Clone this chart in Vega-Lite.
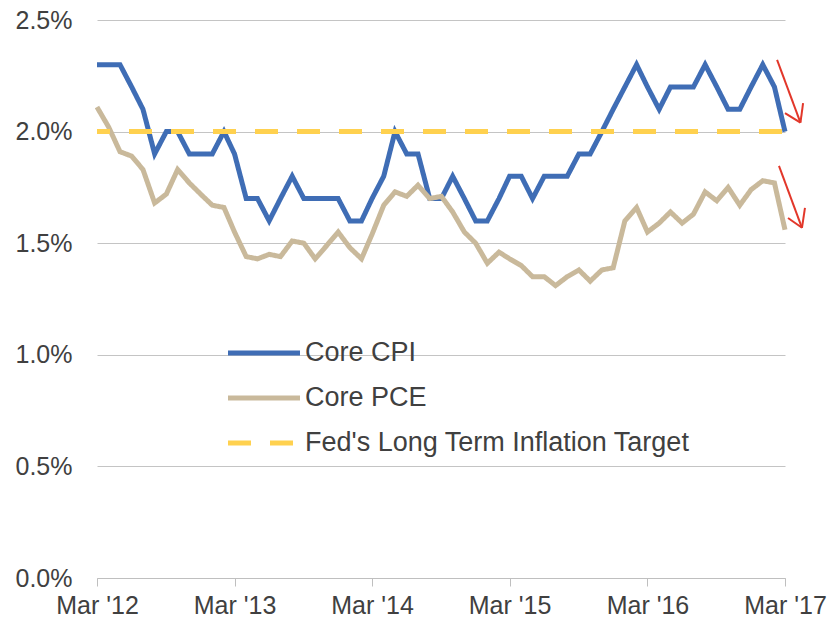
{
  "$schema": "https://vega.github.io/schema/vega-lite/v6.json",
  "width": 688,
  "height": 558,
  "autosize": "none",
  "padding": {"left": 97, "top": 20, "right": 46, "bottom": 45},
  "background": "white",
  "config": {"view": {"stroke": null}, "font": "Liberation Sans"},
  "datasets": {
    "series": [
      {"date": "2012-03-01", "series": "Core CPI", "value": 2.3},
      {"date": "2012-04-01", "series": "Core CPI", "value": 2.3},
      {"date": "2012-05-01", "series": "Core CPI", "value": 2.3},
      {"date": "2012-06-01", "series": "Core CPI", "value": 2.2},
      {"date": "2012-07-01", "series": "Core CPI", "value": 2.1},
      {"date": "2012-08-01", "series": "Core CPI", "value": 1.9},
      {"date": "2012-09-01", "series": "Core CPI", "value": 2.0},
      {"date": "2012-10-01", "series": "Core CPI", "value": 2.0},
      {"date": "2012-11-01", "series": "Core CPI", "value": 1.9},
      {"date": "2012-12-01", "series": "Core CPI", "value": 1.9},
      {"date": "2013-01-01", "series": "Core CPI", "value": 1.9},
      {"date": "2013-02-01", "series": "Core CPI", "value": 2.0},
      {"date": "2013-03-01", "series": "Core CPI", "value": 1.9},
      {"date": "2013-04-01", "series": "Core CPI", "value": 1.7},
      {"date": "2013-05-01", "series": "Core CPI", "value": 1.7},
      {"date": "2013-06-01", "series": "Core CPI", "value": 1.6},
      {"date": "2013-07-01", "series": "Core CPI", "value": 1.7},
      {"date": "2013-08-01", "series": "Core CPI", "value": 1.8},
      {"date": "2013-09-01", "series": "Core CPI", "value": 1.7},
      {"date": "2013-10-01", "series": "Core CPI", "value": 1.7},
      {"date": "2013-11-01", "series": "Core CPI", "value": 1.7},
      {"date": "2013-12-01", "series": "Core CPI", "value": 1.7},
      {"date": "2014-01-01", "series": "Core CPI", "value": 1.6},
      {"date": "2014-02-01", "series": "Core CPI", "value": 1.6},
      {"date": "2014-03-01", "series": "Core CPI", "value": 1.7},
      {"date": "2014-04-01", "series": "Core CPI", "value": 1.8},
      {"date": "2014-05-01", "series": "Core CPI", "value": 2.0},
      {"date": "2014-06-01", "series": "Core CPI", "value": 1.9},
      {"date": "2014-07-01", "series": "Core CPI", "value": 1.9},
      {"date": "2014-08-01", "series": "Core CPI", "value": 1.7},
      {"date": "2014-09-01", "series": "Core CPI", "value": 1.7},
      {"date": "2014-10-01", "series": "Core CPI", "value": 1.8},
      {"date": "2014-11-01", "series": "Core CPI", "value": 1.7},
      {"date": "2014-12-01", "series": "Core CPI", "value": 1.6},
      {"date": "2015-01-01", "series": "Core CPI", "value": 1.6},
      {"date": "2015-02-01", "series": "Core CPI", "value": 1.7},
      {"date": "2015-03-01", "series": "Core CPI", "value": 1.8},
      {"date": "2015-04-01", "series": "Core CPI", "value": 1.8},
      {"date": "2015-05-01", "series": "Core CPI", "value": 1.7},
      {"date": "2015-06-01", "series": "Core CPI", "value": 1.8},
      {"date": "2015-07-01", "series": "Core CPI", "value": 1.8},
      {"date": "2015-08-01", "series": "Core CPI", "value": 1.8},
      {"date": "2015-09-01", "series": "Core CPI", "value": 1.9},
      {"date": "2015-10-01", "series": "Core CPI", "value": 1.9},
      {"date": "2015-11-01", "series": "Core CPI", "value": 2.0},
      {"date": "2015-12-01", "series": "Core CPI", "value": 2.1},
      {"date": "2016-01-01", "series": "Core CPI", "value": 2.2},
      {"date": "2016-02-01", "series": "Core CPI", "value": 2.3},
      {"date": "2016-03-01", "series": "Core CPI", "value": 2.2},
      {"date": "2016-04-01", "series": "Core CPI", "value": 2.1},
      {"date": "2016-05-01", "series": "Core CPI", "value": 2.2},
      {"date": "2016-06-01", "series": "Core CPI", "value": 2.2},
      {"date": "2016-07-01", "series": "Core CPI", "value": 2.2},
      {"date": "2016-08-01", "series": "Core CPI", "value": 2.3},
      {"date": "2016-09-01", "series": "Core CPI", "value": 2.2},
      {"date": "2016-10-01", "series": "Core CPI", "value": 2.1},
      {"date": "2016-11-01", "series": "Core CPI", "value": 2.1},
      {"date": "2016-12-01", "series": "Core CPI", "value": 2.2},
      {"date": "2017-01-01", "series": "Core CPI", "value": 2.3},
      {"date": "2017-02-01", "series": "Core CPI", "value": 2.2},
      {"date": "2017-03-01", "series": "Core CPI", "value": 2.0},
      {"date": "2012-03-01", "series": "Core PCE", "value": 2.11},
      {"date": "2012-04-01", "series": "Core PCE", "value": 2.02},
      {"date": "2012-05-01", "series": "Core PCE", "value": 1.91},
      {"date": "2012-06-01", "series": "Core PCE", "value": 1.89},
      {"date": "2012-07-01", "series": "Core PCE", "value": 1.83},
      {"date": "2012-08-01", "series": "Core PCE", "value": 1.68},
      {"date": "2012-09-01", "series": "Core PCE", "value": 1.72},
      {"date": "2012-10-01", "series": "Core PCE", "value": 1.83},
      {"date": "2012-11-01", "series": "Core PCE", "value": 1.77},
      {"date": "2012-12-01", "series": "Core PCE", "value": 1.72},
      {"date": "2013-01-01", "series": "Core PCE", "value": 1.67},
      {"date": "2013-02-01", "series": "Core PCE", "value": 1.66},
      {"date": "2013-03-01", "series": "Core PCE", "value": 1.55},
      {"date": "2013-04-01", "series": "Core PCE", "value": 1.44},
      {"date": "2013-05-01", "series": "Core PCE", "value": 1.43},
      {"date": "2013-06-01", "series": "Core PCE", "value": 1.45},
      {"date": "2013-07-01", "series": "Core PCE", "value": 1.44},
      {"date": "2013-08-01", "series": "Core PCE", "value": 1.51},
      {"date": "2013-09-01", "series": "Core PCE", "value": 1.50},
      {"date": "2013-10-01", "series": "Core PCE", "value": 1.43},
      {"date": "2013-11-01", "series": "Core PCE", "value": 1.49},
      {"date": "2013-12-01", "series": "Core PCE", "value": 1.55},
      {"date": "2014-01-01", "series": "Core PCE", "value": 1.48},
      {"date": "2014-02-01", "series": "Core PCE", "value": 1.43},
      {"date": "2014-03-01", "series": "Core PCE", "value": 1.54},
      {"date": "2014-04-01", "series": "Core PCE", "value": 1.67},
      {"date": "2014-05-01", "series": "Core PCE", "value": 1.73},
      {"date": "2014-06-01", "series": "Core PCE", "value": 1.71},
      {"date": "2014-07-01", "series": "Core PCE", "value": 1.76},
      {"date": "2014-08-01", "series": "Core PCE", "value": 1.70},
      {"date": "2014-09-01", "series": "Core PCE", "value": 1.71},
      {"date": "2014-10-01", "series": "Core PCE", "value": 1.64},
      {"date": "2014-11-01", "series": "Core PCE", "value": 1.55},
      {"date": "2014-12-01", "series": "Core PCE", "value": 1.50},
      {"date": "2015-01-01", "series": "Core PCE", "value": 1.41},
      {"date": "2015-02-01", "series": "Core PCE", "value": 1.46},
      {"date": "2015-03-01", "series": "Core PCE", "value": 1.43},
      {"date": "2015-04-01", "series": "Core PCE", "value": 1.40},
      {"date": "2015-05-01", "series": "Core PCE", "value": 1.35},
      {"date": "2015-06-01", "series": "Core PCE", "value": 1.35},
      {"date": "2015-07-01", "series": "Core PCE", "value": 1.31},
      {"date": "2015-08-01", "series": "Core PCE", "value": 1.35},
      {"date": "2015-09-01", "series": "Core PCE", "value": 1.38},
      {"date": "2015-10-01", "series": "Core PCE", "value": 1.33},
      {"date": "2015-11-01", "series": "Core PCE", "value": 1.38},
      {"date": "2015-12-01", "series": "Core PCE", "value": 1.39},
      {"date": "2016-01-01", "series": "Core PCE", "value": 1.60},
      {"date": "2016-02-01", "series": "Core PCE", "value": 1.66},
      {"date": "2016-03-01", "series": "Core PCE", "value": 1.55},
      {"date": "2016-04-01", "series": "Core PCE", "value": 1.59},
      {"date": "2016-05-01", "series": "Core PCE", "value": 1.64},
      {"date": "2016-06-01", "series": "Core PCE", "value": 1.59},
      {"date": "2016-07-01", "series": "Core PCE", "value": 1.63},
      {"date": "2016-08-01", "series": "Core PCE", "value": 1.73},
      {"date": "2016-09-01", "series": "Core PCE", "value": 1.69},
      {"date": "2016-10-01", "series": "Core PCE", "value": 1.75},
      {"date": "2016-11-01", "series": "Core PCE", "value": 1.67},
      {"date": "2016-12-01", "series": "Core PCE", "value": 1.74},
      {"date": "2017-01-01", "series": "Core PCE", "value": 1.78},
      {"date": "2017-02-01", "series": "Core PCE", "value": 1.77},
      {"date": "2017-03-01", "series": "Core PCE", "value": 1.56},
      {"date": "2012-03-01", "series": "Fed's Long Term Inflation Target", "value": 2.0},
      {"date": "2017-03-01", "series": "Fed's Long Term Inflation Target", "value": 2.0}
    ],
    "arrows": [
      {"d1": "2017-02-08", "v1": 2.321, "d2": "2017-04-11", "v2": 2.040},
      {"d1": "2017-03-01", "v1": 2.083, "d2": "2017-04-11", "v2": 2.040},
      {"d1": "2017-04-18", "v1": 2.128, "d2": "2017-04-11", "v2": 2.040},
      {"d1": "2017-02-13", "v1": 1.846, "d2": "2017-04-15", "v2": 1.569},
      {"d1": "2017-03-09", "v1": 1.613, "d2": "2017-04-15", "v2": 1.569},
      {"d1": "2017-04-23", "v1": 1.658, "d2": "2017-04-15", "v2": 1.569}
    ]
  },
  "layer": [
    {
      "data": {"name": "series"},
      "mark": {"type": "line", "strokeWidth": 5, "strokeDashOffset": 10},
      "encoding": {
        "x": {
          "field": "date",
          "type": "temporal",
          "scale": {
            "type": "utc",
            "nice": false,
            "domain": [
              {"year": 2012, "month": 3, "date": 1, "utc": true},
              {"year": 2017, "month": 3, "date": 1, "utc": true}
            ]
          },
          "axis": {
            "values": [
              {"year": 2012, "month": 3, "date": 1, "utc": true},
              {"year": 2013, "month": 3, "date": 1, "utc": true},
              {"year": 2014, "month": 3, "date": 1, "utc": true},
              {"year": 2015, "month": 3, "date": 1, "utc": true},
              {"year": 2016, "month": 3, "date": 1, "utc": true},
              {"year": 2017, "month": 3, "date": 1, "utc": true}
            ],
            "labelExpr": "utcFormat(datum.value, \"%b '%y\")",
            "title": null,
            "grid": false,
            "domainColor": "#BFBFBF",
            "domainWidth": 1,
            "tickColor": "#BFBFBF",
            "tickSize": 8,
            "labelPadding": 7,
            "labelFontSize": 25,
            "labelColor": "#404040",
            "labelFont": "Liberation Sans",
            "labelFlush": false,
            "labelOverlap": false
          }
        },
        "y": {
          "field": "value",
          "type": "quantitative",
          "scale": {"domain": [0, 2.5], "nice": false, "zero": true},
          "axis": {
            "values": [0, 0.5, 1, 1.5, 2, 2.5],
            "labelExpr": "format(datum.value, '.1f') + '%'",
            "title": null,
            "domain": false,
            "ticks": false,
            "tickSize": 0,
            "labelPadding": 25,
            "gridColor": "#C4C4C4",
            "gridWidth": 1,
            "labelFontSize": 25,
            "labelColor": "#404040",
            "labelFont": "Liberation Sans"
          }
        },
        "color": {
          "field": "series",
          "type": "nominal",
          "sort": null,
          "scale": {
            "domain": ["Core CPI", "Core PCE", "Fed's Long Term Inflation Target"],
            "range": ["#3F6DB5", "#C9B99B", "#FFD14F"]
          },
          "legend": {
            "orient": "none",
            "legendX": 128.5,
            "legendY": 310.5,
            "title": null,
            "padding": 0,
            "symbolType": "stroke",
            "symbolSize": 5184,
            "symbolStrokeWidth": 5,
            "clipHeight": 45,
            "rowPadding": 0,
            "labelOffset": 2.5,
            "labelFontSize": 27,
            "labelColor": "#404040",
            "labelFont": "Liberation Sans",
            "labelLimit": 0
          }
        },
        "strokeDash": {
          "field": "series",
          "type": "nominal",
          "sort": null,
          "scale": {
            "domain": ["Core CPI", "Core PCE", "Fed's Long Term Inflation Target"],
            "range": [[1, 0], [1, 0], [23, 19]]
          },
          "legend": {
            "orient": "none",
            "legendX": 128.5,
            "legendY": 310.5,
            "title": null,
            "padding": 0,
            "symbolType": "stroke",
            "symbolSize": 5184,
            "symbolStrokeWidth": 5,
            "clipHeight": 45,
            "rowPadding": 0,
            "labelOffset": 2.5,
            "labelFontSize": 27,
            "labelColor": "#404040",
            "labelFont": "Liberation Sans",
            "labelLimit": 0
          }
        }
      }
    },
    {
      "data": {"name": "arrows"},
      "mark": {"type": "rule", "color": "#E2372A", "strokeWidth": 2},
      "encoding": {
        "x": {"field": "d1", "type": "temporal", "scale": {"type": "utc", "nice": false, "domain": [{"year": 2012, "month": 3, "date": 1, "utc": true}, {"year": 2017, "month": 3, "date": 1, "utc": true}]}},
        "x2": {"field": "d2"},
        "y": {"field": "v1", "type": "quantitative", "scale": {"domain": [0, 2.5], "nice": false, "zero": true}},
        "y2": {"field": "v2"}
      }
    }
  ]
}
